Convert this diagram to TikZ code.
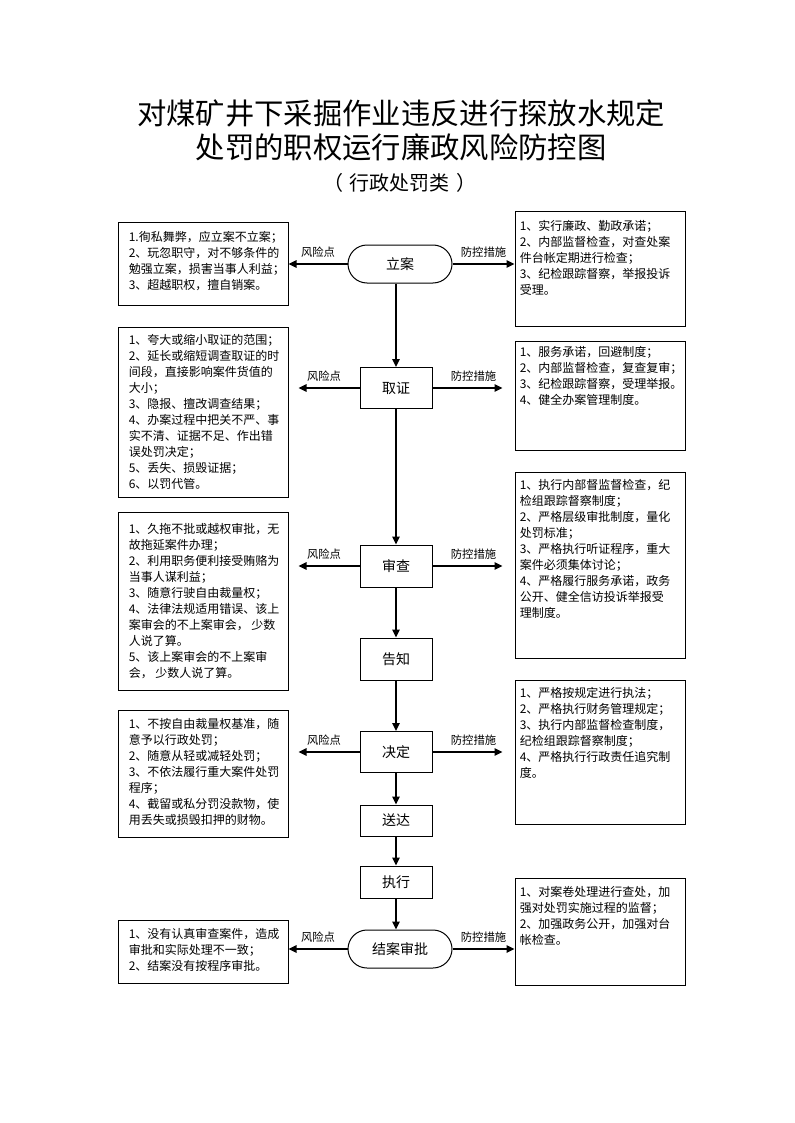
\documentclass[tikz,border=0pt]{standalone}
\usepackage{fontspec}
\setmainfont{Noto Sans CJK SC}
\usetikzlibrary{arrows.meta,shapes.misc}

\begin{document}
\begin{tikzpicture}[x=0.75pt,y=-0.75pt,
  flow/.style={line width=1.5pt,-{Triangle[length=6pt,width=5.5pt]}},
  sidebox/.style={draw,line width=0.75pt,minimum width=127.5pt,inner sep=0pt},
  boxtext/.style={anchor=north west,align=left,inner sep=0pt,font=\fontsize{9}{12}\selectfont},
  stepbox/.style={draw,line width=0.75pt,minimum width=54pt,inner sep=0pt,font=\fontsize{10.5}{12}\selectfont},
  endbox/.style={draw,line width=0.75pt,rounded rectangle,minimum width=78pt,minimum height=28.5pt,inner sep=0pt,font=\fontsize{10.5}{12}\selectfont},
  lbl/.style={above,inner sep=4pt,font=\fontsize{8.5}{10}\selectfont}]
\useasboundingbox (0,0) rectangle (794,1123);

%%% titre
\node[font=\fontsize{22}{24}\selectfont] (t1) at (401,113) {对煤矿井下采掘作业违反进行探放水规定};
\node[font=\fontsize{22}{24}\selectfont] (t2) at (401,147) {处罚的职权运行廉政风险防控图};
\node[font=\fontsize{15}{16}\selectfont] (t3) at (400,183) {（\hspace{5pt}行政处罚类\hspace{5pt}）};

%%% etapes
\node[endbox] (lian) at (400,264) {立案};
\node[stepbox,minimum height=30.75pt] (quzheng) at (396,388) {取证};
\node[stepbox,minimum height=31.5pt] (shencha) at (396,566) {审查};
\node[stepbox,minimum height=31.5pt] (gaozhi) at (396,659) {告知};
\node[stepbox,minimum height=30.75pt] (jueding) at (396,752) {决定};
\node[stepbox,minimum height=23.25pt] (songda) at (396,820.5) {送达};
\node[stepbox,minimum height=24pt] (zhixing) at (396,882) {执行};
\node[endbox] (jiean) at (400,949) {结案审批};

%%% risques (gauche)
\node[sidebox,minimum height=61.5pt] (r1) at (203,264) {};
\node[boxtext] (r1t) at ([shift={(11,9)}]r1.north west) {1.徇私舞弊，应立案不立案；\\2、玩忽职守，对不够条件的\\勉强立案，损害当事人利益；\\3、超越职权，擅自销案。};
\node[sidebox,minimum height=127.5pt] (r2) at (203,412) {};
\node[boxtext] (r2t) at ([shift={(11,8)}]r2.north west) {1、夸大或缩小取证的范围；\\2、延长或缩短调查取证的时\\间段，直接影响案件货值的\\大小；\\3、隐报、擅改调查结果；\\4、办案过程中把关不严、事\\实不清、证据不足、作出错\\误处罚决定；\\5、丢失、损毁证据；\\6、以罚代管。};
\node[sidebox,minimum height=133.5pt] (r3) at (203,601) {};
\node[boxtext] (r3t) at ([shift={(11,12)}]r3.north west) {1、久拖不批或越权审批，无\\故拖延案件办理；\\2、利用职务便利接受贿赂为\\当事人谋利益；\\3、随意行驶自由裁量权；\\4、法律法规适用错误、该上\\案审会的不上案审会， 少数\\人说了算。\\5、该上案审会的不上案审\\会， 少数人说了算。};
\node[sidebox,minimum height=95.25pt] (r4) at (203,773.5) {};
\node[boxtext] (r4t) at ([shift={(11,9)}]r4.north west) {1、不按自由裁量权基准，随\\意予以行政处罚；\\2、随意从轻或减轻处罚；\\3、不依法履行重大案件处罚\\程序；\\4、截留或私分罚没款物，使\\用丢失或损毁扣押的财物。};
\node[sidebox,minimum height=47.25pt] (r5) at (203,951.5) {};
\node[boxtext] (r5t) at ([shift={(11,9)}]r5.north west) {1、没有认真审查案件，造成\\审批和实际处理不一致；\\2、结案没有按程序审批。};

%%% mesures (droite)
\node[sidebox,minimum height=85.5pt] (c1) at (600,269) {};
\node[boxtext] (c1t) at ([shift={(5,9)}]c1.north west) {1、实行廉政、勤政承诺；\\2、内部监督检查，对查处案\\件台帐定期进行检查；\\3、纪检跟踪督察，举报投诉\\受理。};
\node[sidebox,minimum height=81.75pt] (c2) at (600,395.5) {};
\node[boxtext] (c2t) at ([shift={(5,6)}]c2.north west) {1、服务承诺，回避制度；\\2、内部监督检查，复查复审；\\3、纪检跟踪督察，受理举报。\\4、健全办案管理制度。};
\node[sidebox,minimum height=139.5pt] (c3) at (600,565) {};
\node[boxtext] (c3t) at ([shift={(5,8)}]c3.north west) {1、执行内部督监督检查，纪\\检组跟踪督察制度；\\2、严格层级审批制度，量化\\处罚标准；\\3、严格执行听证程序，重大\\案件必须集体讨论；\\4、严格履行服务承诺，政务\\公开、健全信访投诉举报受\\理制度。};
\node[sidebox,minimum height=108pt] (c4) at (600,752) {};
\node[boxtext] (c4t) at ([shift={(5,8)}]c4.north west) {1、严格按规定进行执法；\\2、严格执行财务管理规定；\\3、执行内部监督检查制度，\\纪检组跟踪督察制度；\\4、严格执行行政责任追究制\\度。};
\node[sidebox,minimum height=80.25pt] (c5) at (600,931.5) {};
\node[boxtext] (c5t) at ([shift={(5,9)}]c5.north west) {1、对案卷处理进行查处，加\\强对处罚实施过程的监督；\\2、加强政务公开，加强对台\\帐检查。};

%%% fleches

% verticales
\draw[flow] (quzheng.north |- lian.south) -- (quzheng.north);
\draw[flow] (quzheng.south) -- (shencha.north);
\draw[flow] (shencha.south) -- (gaozhi.north);
\draw[flow] (gaozhi.south) -- (jueding.north);
\draw[flow] (jueding.south) -- (songda.north);
\draw[flow] (songda.south) -- (zhixing.north);
\draw[flow] (zhixing.south) -- (zhixing.south |- jiean.north);

% risques
\draw[flow] (lian.west) -- node[lbl] {风险点} (lian.west -| r1.east);
\draw[flow,shorten >=7.5pt] (quzheng.west) -- node[lbl] {风险点} (quzheng.west -| r2.east);
\draw[flow,shorten >=7.5pt] (shencha.west) -- node[lbl] {风险点} (shencha.west -| r3.east);
\draw[flow,shorten >=7.5pt] (jueding.west) -- node[lbl] {风险点} (jueding.west -| r4.east);
\draw[flow] (jiean.west) -- node[lbl] {风险点} (jiean.west -| r5.east);

% mesures
\draw[flow] (lian.east) -- node[lbl] {防控措施} (lian.east -| c1.west);
\draw[flow,shorten >=9pt] (quzheng.east) -- node[lbl] {防控措施} (quzheng.east -| c2.west);
\draw[flow,shorten >=9pt] (shencha.east) -- node[lbl] {防控措施} (shencha.east -| c3.west);
\draw[flow,shorten >=9pt] (jueding.east) -- node[lbl] {防控措施} (jueding.east -| c4.west);
\draw[flow] (jiean.east) -- node[lbl] {防控措施} (jiean.east -| c5.west);

\end{tikzpicture}
\end{document}
